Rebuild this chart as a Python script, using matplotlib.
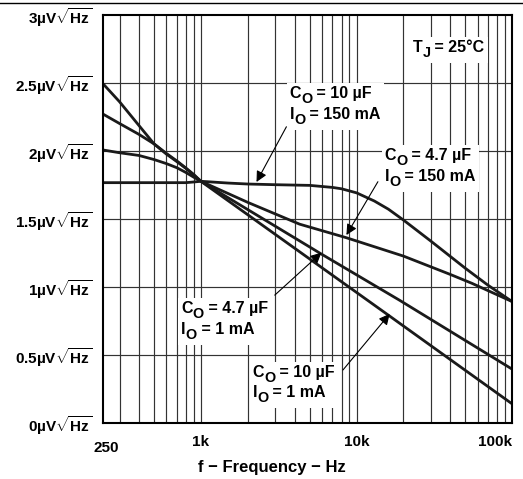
import matplotlib
matplotlib.use('Agg')
import matplotlib.pyplot as plt
from matplotlib.lines import Line2D
from matplotlib.patches import Rectangle
from matplotlib.transforms import offset_copy

plt.rcParams['font.family'] = ['Liberation Sans', 'DejaVu Sans']
plt.rcParams['font.weight'] = 'bold'
plt.rcParams['mathtext.fontset'] = 'custom'
plt.rcParams['mathtext.rm'] = 'Liberation Sans:bold'
plt.rcParams['mathtext.it'] = 'Liberation Sans:bold'
plt.rcParams['mathtext.bf'] = 'Liberation Sans:bold'

# ---- 数据 ----
# Co = 10 uF, Io = 150 mA
f_a = [236, 500, 800, 900, 1000, 1500, 2000, 3000, 5000, 7000, 8000, 10000,
       13000, 16000, 20000, 30000, 50000, 70000, 100000]
v_a = [1.765, 1.765, 1.765, 1.77, 1.775, 1.762, 1.755, 1.75, 1.745, 1.73, 1.72, 1.69,
       1.63, 1.57, 1.49, 1.335, 1.135, 1.01, 0.89]

# Co = 4.7 uF, Io = 150 mA
f_b = [236, 300, 400, 500, 600, 700, 800, 900, 1000, 2000, 4300, 8600,
       20000, 40000, 55000, 100000]
v_b = [2.005, 1.985, 1.965, 1.935, 1.905, 1.875, 1.84, 1.805, 1.775, 1.62, 1.46, 1.36,
       1.225, 1.09, 1.025, 0.89]

# Co = 4.7 uF, Io = 1 mA
f_c = [236, 300, 400, 500, 600, 700, 800, 900, 1000, 5940, 18900, 100000]
v_c = [2.268, 2.20, 2.12, 2.05, 1.98, 1.925, 1.873, 1.825, 1.775, 1.24, 0.90, 0.393]

# Co = 10 uF, Io = 1 mA
f_d = [236, 300, 400, 500, 600, 700, 800, 900, 1000, 16300, 18900, 100000]
v_d = [2.49, 2.36, 2.185, 2.05, 1.975, 1.92, 1.87, 1.82, 1.775, 0.784, 0.731, 0.1375]

y_ticks = [0, 0.5, 1, 1.5, 2, 2.5, 3]
y_tick_text = ['0', '0.5', '1', '1.5', '2', '2.5', '3']
x_ticks = [1000, 10000, 100000]
x_tick_text = ['1k', '10k', '100k']

# ---- 画图 ----
fig = plt.figure(figsize=(5.23, 4.79), dpi=100)
ax = fig.add_axes([103.3 / 523, (479 - 422.7) / 479,
                   (512.3 - 103.3) / 523, (422.7 - 14.7) / 479])
ax.set_xscale('log')
ax.set_xlim(236, 100000)
ax.set_ylim(0, 3)

# 网格
grid_x = [m * 10 ** e for e in (2, 3, 4) for m in range(1, 10)]
for gx in grid_x:
    if 236 < gx < 100000:
        ax.axvline(gx, color='#333333', lw=0.85, zorder=1)
for gy in y_ticks[1:-1]:
    ax.axhline(gy, color='#333333', lw=0.85, zorder=1)

for f, v in [(f_a, v_a), (f_b, v_b), (f_c, v_c), (f_d, v_d)]:
    ax.plot(f, v, color='#1a1a1a', lw=2.0, zorder=4, solid_capstyle='butt')

ax.set_yticks(y_ticks)
ax.set_yticklabels([r'$\mathrm{' + t + r'µV}\sqrt{\mathrm{Hz}}$' for t in y_tick_text])
ax.set_xticks(x_ticks)
ax.set_xticklabels(x_tick_text)
ax.minorticks_off()
ax.tick_params(axis='both', length=0, labelsize=11)
ax.tick_params(axis='x', pad=9)
ax.tick_params(axis='y', pad=8)
for lbl in ax.get_xticklabels():
    lbl.set_fontweight('bold')
ax.get_xticklabels()[-1].set_horizontalalignment('right')
for s in ax.spines.values():
    s.set_linewidth(1.5)
    s.set_zorder(5)

fig.text(106 / 523, 1 - 451.7 / 479, '250', ha='center', va='baseline',
         fontsize=11, fontweight='bold')
fig.text(272 / 523, 1 - 471.7 / 479, 'f − Frequency − Hz', ha='center', va='baseline',
         fontsize=12, fontweight='bold')

renderer = fig.canvas.get_renderer()


def sub_label(x, y, lines, size=11.5, sub_scale=0.9, sub_drop=3.6, step=14.9):
    """逐段放置文字，下标用几乎同样大的字号并下移，背后加白底"""
    arts = []
    for i, pieces in enumerate(lines):
        dx = 0.0
        for s, is_sub in pieces:
            fs = size * sub_scale if is_sub else size
            dy = -i * step - (sub_drop if is_sub else 0)
            tr = offset_copy(ax.transData, fig=fig, x=dx, y=dy, units='points')
            t = ax.text(x, y, s, transform=tr, fontsize=fs, fontweight='bold',
                        ha='left', va='baseline', zorder=3)
            dx += t.get_window_extent(renderer).width * 72 / fig.dpi
            arts.append(t)
    bbs = [t.get_window_extent(renderer) for t in arts]
    pad = 3
    x0 = min(b.x0 for b in bbs) - pad
    x1 = max(b.x1 for b in bbs) + pad
    y0 = min(b.y0 for b in bbs) - pad
    y1 = max(b.y1 for b in bbs) + pad
    inv = ax.transAxes.inverted()
    (ax0, ay0), (ax1, ay1) = inv.transform([(x0, y0), (x1, y1)])
    ax.add_patch(Rectangle((ax0, ay0), ax1 - ax0, ay1 - ay0, transform=ax.transAxes,
                           facecolor='white', edgecolor='none', zorder=2))


sub_label(22960, 2.728, [[('T', False), ('J', True), (' = 25°C', False)]])
sub_label(3720, 2.385, [[('C', False), ('O', True), (' = 10 µF', False)],
                        [('I', False), ('O', True), (' = 150 mA', False)]])
sub_label(15120, 1.932, [[('C', False), ('O', True), (' = 4.7 µF', False)],
                         [('I', False), ('O', True), (' = 150 mA', False)]])
sub_label(744, 0.807, [[('C', False), ('O', True), (' = 4.7 µF', False)],
                       [('I', False), ('O', True), (' = 1 mA', False)]])
sub_label(2145, 0.338, [[('C', False), ('O', True), (' = 10 µF', False)],
                        [('I', False), ('O', True), (' = 1 mA', False)]])

arrow = dict(arrowstyle='-|>', color='black', lw=0.8, mutation_scale=16,
             shrinkA=0, shrinkB=0)
ax.annotate('', xy=(2275, 1.77), xytext=(3540, 2.176), arrowprops=arrow, zorder=6)
ax.annotate('', xy=(8600, 1.38), xytext=(13700, 1.772), arrowprops=arrow, zorder=6)
ax.annotate('', xy=(5940, 1.25), xytext=(2980, 0.938), arrowprops=arrow, zorder=6)
ax.annotate('', xy=(16300, 0.80), xytext=(8170, 0.3875), arrowprops=arrow, zorder=6)

# 顶部横线
fig.add_artist(Line2D([0, 1], [1 - 3.3 / 479, 1 - 3.3 / 479], color='black', lw=1.0,
                      transform=fig.transFigure))

fig.savefig('out.png', dpi=100)
